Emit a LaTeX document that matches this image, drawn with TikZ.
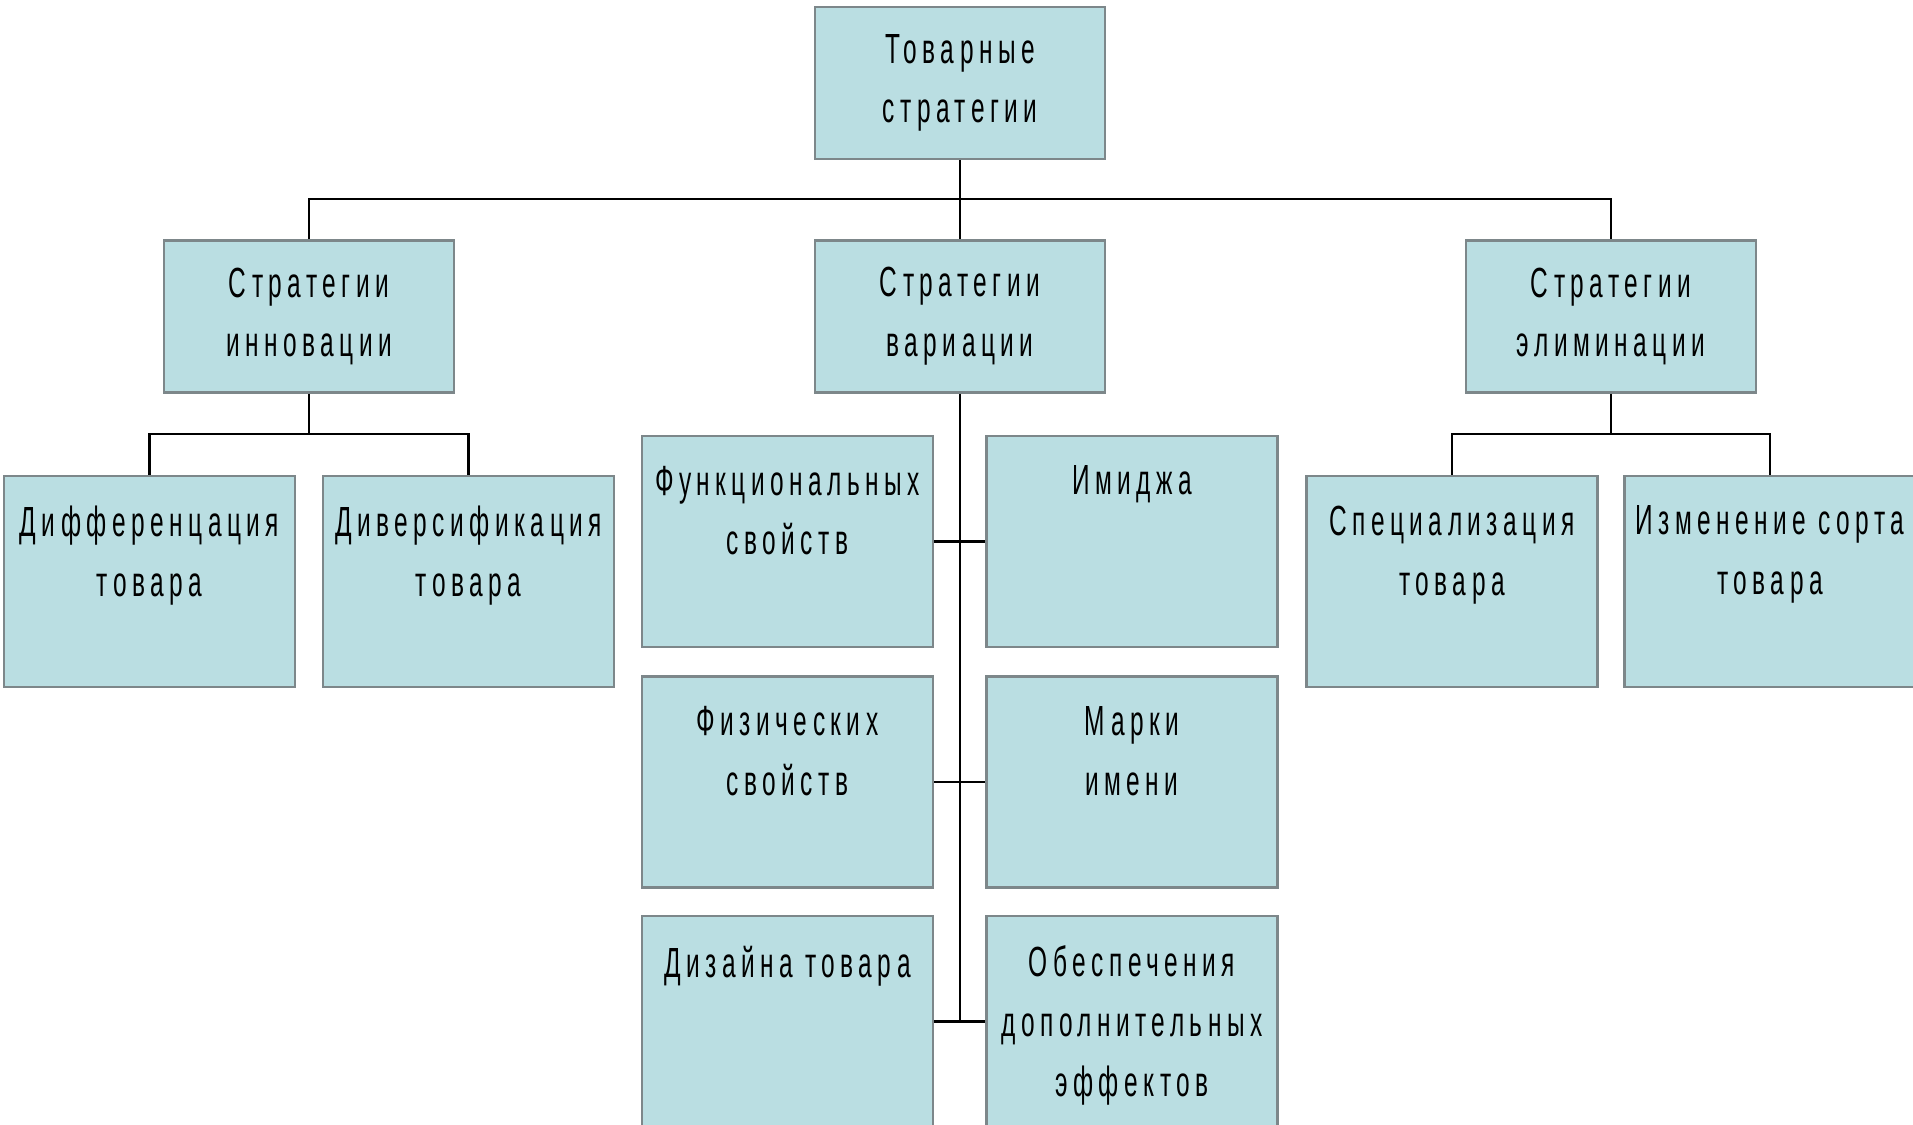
\documentclass[tikz,border=0pt]{standalone}
\usepackage{fontspec}
\setmainfont[FakeStretch=0.58,LetterSpace=13]{Liberation Sans}
\usetikzlibrary{positioning}

\definecolor{boxfill}{RGB}{186,222,226}
\definecolor{boxline}{RGB}{125,135,138}

\begin{document}
\begin{tikzpicture}[
			x=0.02cm,y=-0.02cm,
			every node/.style={font=\fontsize{24}{34}\selectfont},
			box/.style={rectangle,draw=boxline,fill=boxfill,line width=1.6pt,align=center,
				minimum width=5.8cm,minimum height=3.04cm,inner sep=0pt},
			cell/.style={rectangle,draw=boxline,fill=boxfill,line width=1.6pt,
				minimum width=5.82cm,minimum height=4.22cm},
			lbl/.style={anchor=north,align=center,inner sep=0pt,yshift=-0.62cm},
			link/.style={line width=1.6pt,black},
			]
			\useasboundingbox (0,0) rectangle (1913,1125);

			% top level
			\node [box] (top) at (960,83) {Товарные\\стратегии};

			% second level
			\node [box] (inn) at (309,316.5) {Стратегии\\инновации};
			\node [box] (var) at (960,316.5) {Стратегии\\вариации};
			\node [box] (elim) at (1611,316.5) {Стратегии\\элиминации};

			\coordinate (bus) at (960,199);
			\coordinate (lbus) at (309,434);
			\coordinate (rbus) at (1611,434);

			% innovation
			\node [cell] (diff) at (149.5,581.5) {};
			\node [lbl] (diffT) at (diff.north) {Дифференцация\\товара};
			\node [cell] (divr) at (468.5,581.5) {};
			\node [lbl] (divrT) at (divr.north) {Диверсификация\\товара};

			% elimination
			\node [cell] (spec) at (1452,581.5) {};
			\node [lbl] (specT) at (spec.north) {Специализация\\товара};
			\node [cell] (sort) at (1770,581.5) {};
			\node [lbl] (sortT) at (sort.north) {Изменение сорта\\товара};

			% variation
			\node [cell] (func) at (787.5,541.5) {};
			\node [lbl] (funcT) at (func.north) {Функциональных\\свойств};
			\node [cell] (img) at (1132,541.5) {};
			\node [lbl] (imgT) at (img.north) {Имиджа};
			\node [cell] (phys) at (787.5,782) {};
			\node [lbl] (physT) at (phys.north) {Физических\\свойств};
			\node [cell] (mark) at (1132,782) {};
			\node [lbl] (markT) at (mark.north) {Марки\\имени};
			\node [cell] (dsgn) at (787.5,1021.5) {};
			\node [lbl] (dsgnT) at (dsgn.north) {Дизайна товара};
			\node [cell] (extra) at (1132,1021.5) {};
			\node [lbl] (extraT) at (extra.north) {Обеспечения\\дополнительных\\эффектов};

			% connectors
			\draw [link] (top) -- (var);
			\draw [link] (inn.north) |- (bus) -| (elim.north);
			\draw [link] (inn) -- (lbus);
			\draw [link] (diff.north) |- (lbus) -| (divr.north);
			\draw [link] (elim) -- (rbus);
			\draw [link] (spec.north) |- (rbus) -| (sort.north);
			\draw [link] (var.south) -- (var.south |- dsgn.east);
			\draw [link] (func) -- (img);
			\draw [link] (phys) -- (mark);
			\draw [link] (dsgn) -- (extra);
		\end{tikzpicture}
\end{document}
